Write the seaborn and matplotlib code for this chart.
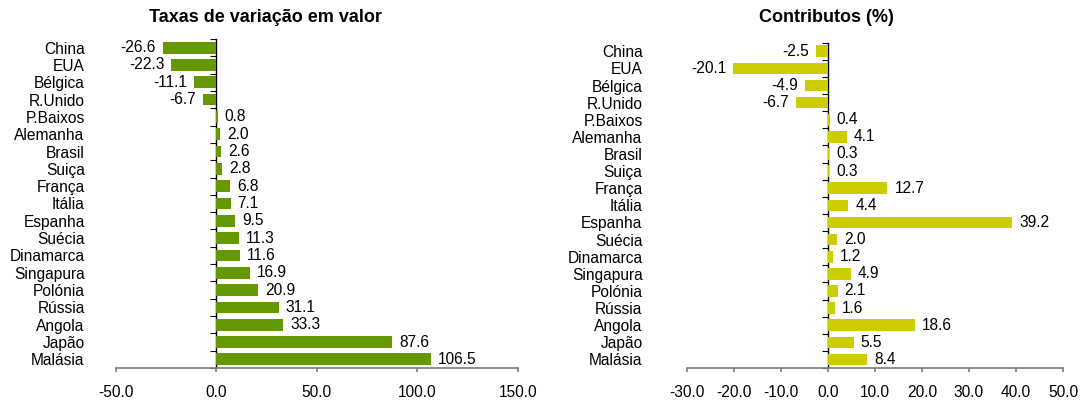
import numpy as np
import pandas as pd
import seaborn as sns
import matplotlib.pyplot as plt
from matplotlib.ticker import FormatStrFormatter

# data
paises = ['China', 'EUA', 'Bélgica', 'R.Unido', 'P.Baixos', 'Alemanha', 'Brasil',
          'Suiça', 'França', 'Itália', 'Espanha', 'Suécia', 'Dinamarca',
          'Singapura', 'Polónia', 'Rússia', 'Angola', 'Japão', 'Malásia']
taxas = [-26.6, -22.3, -11.1, -6.7, 0.8, 2.0, 2.6, 2.8, 6.8, 7.1, 9.5, 11.3,
         11.6, 16.9, 20.9, 31.1, 33.3, 87.6, 106.5]
contributos = [-2.5, -20.1, -4.9, -6.7, 0.4, 4.1, 0.3, 0.3, 12.7, 4.4, 39.2, 2.0,
               1.2, 4.9, 2.1, 1.6, 18.6, 5.5, 8.4]

verde = '#669900'
amarelo = '#cccc00'

sns.set_theme(style='white')
plt.rcParams['font.family'] = ['Liberation Sans', 'DejaVu Sans']
plt.rcParams['axes.unicode_minus'] = False
plt.rcParams['text.color'] = 'black'
plt.rcParams['xtick.color'] = 'black'
plt.rcParams['ytick.color'] = 'black'

fs = 11.2

fig = plt.figure(figsize=(10.81, 4.04), dpi=100)
ax1 = fig.add_axes([0.1070, 0.0891, 0.3722, 0.8144])
ax2 = fig.add_axes([0.6352, 0.0891, 0.3481, 0.8052])


def painel(ax, vals, cor, xlim, passo, pad):
    df = pd.DataFrame({'pais': paises, 'valor': vals})
    sns.barplot(data=df, x='valor', y='pais', orient='h', color=cor,
                saturation=1, width=0.68, linewidth=0, ax=ax)
    ax.bar_label(ax.containers[0], fmt='%.1f', padding=5, fontsize=fs,
                 color='black')
    n = len(paises)
    ax.set_xlim(*xlim)
    ax.set_ylim(n - 0.5, -0.5)
    ax.set_xticks(np.arange(xlim[0], xlim[1] + passo / 2, passo))
    ax.xaxis.set_major_formatter(FormatStrFormatter('%.1f'))
    ax.set_xlabel('')
    ax.set_ylabel('')
    for s in ['top', 'right', 'left']:
        ax.spines[s].set_visible(False)
    ax.spines['bottom'].set_color('#808080')
    ax.tick_params(axis='x', bottom=True, length=3, color='#808080',
                   labelcolor='black', labelsize=fs, pad=9)
    ax.tick_params(axis='y', left=False, length=0, labelsize=fs,
                   labelcolor='black', pad=pad)
    # eixo vertical no zero com marcas entre categorias
    loc = (0 - xlim[0]) / (xlim[1] - xlim[0])
    sec = ax.secondary_yaxis(loc)
    sec.set_yticks(np.arange(-0.5, n, 1.0))
    sec.set_yticklabels([])
    sec.tick_params(axis='y', left=True, right=False, length=4, width=0.8,
                    color='black', direction='out')
    sec.spines['left'].set_color('black')
    sec.spines['left'].set_linewidth(1.0)


painel(ax1, taxas, verde, (-50, 150), 50, 22.3)
painel(ax2, contributos, amarelo, (-30, 50), 10, 31.7)

fig.text(265 / 1081, 1 - 17 / 404, 'Taxas de variação em valor', ha='center',
         va='center', fontsize=13, fontweight='bold')
fig.text(826 / 1081, 1 - 17 / 404, 'Contributos (%)', ha='center',
         va='center', fontsize=13, fontweight='bold')

fig.savefig('out.png', dpi=100)
